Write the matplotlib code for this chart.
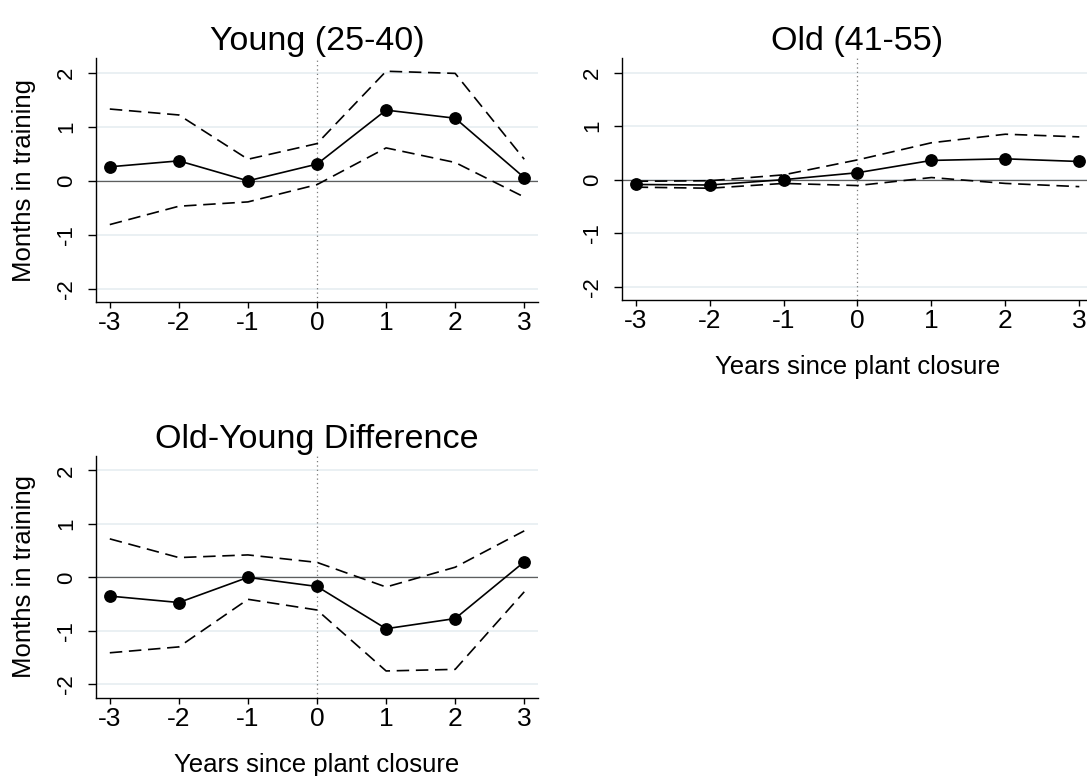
"""Event-study style panels: months in training around plant closure."""

import matplotlib
matplotlib.use("Agg")
import matplotlib.pyplot as plt

plt.rcParams["font.family"] = ["Liberation Sans", "DejaVu Sans"]

years = [-3, -2, -1, 0, 1, 2, 3]

young_est = [0.26, 0.37, 0.00, 0.31, 1.31, 1.16, 0.06]
young_hi = [1.33, 1.22, 0.40, 0.69, 2.03, 1.99, 0.40]
young_lo = [-0.81, -0.47, -0.39, -0.07, 0.61, 0.34, -0.30]

old_est = [-0.09, -0.10, 0.00, 0.13, 0.36, 0.39, 0.34]
old_hi = [-0.03, -0.02, 0.09, 0.37, 0.69, 0.85, 0.80]
old_lo = [-0.14, -0.16, -0.07, -0.11, 0.04, -0.07, -0.13]

diff_est = [-0.35, -0.47, 0.00, -0.17, -0.96, -0.77, 0.29]
diff_hi = [0.72, 0.37, 0.42, 0.28, -0.18, 0.19, 0.87]
diff_lo = [-1.41, -1.30, -0.41, -0.61, -1.75, -1.72, -0.27]

y_ticks = [-2, -1, 0, 1, 2]

GRID_COLOUR = "#E6EEF1"
TITLE_SIZE = 24.5
LABEL_SIZE = 18.5
XTICK_SIZE = 19
YTICK_SIZE = 16

fig = plt.figure(figsize=(10.87, 7.76), dpi=100)
fig.patch.set_facecolor("white")

# axes rectangles (left, bottom, width, height) in figure fractions
ax_young = fig.add_axes([0.0883, 0.6104, 0.4067, 0.3145])
ax_old = fig.add_axes([0.5722, 0.6134, 0.4333, 0.3115])
ax_diff = fig.add_axes([0.0883, 0.1009, 0.4067, 0.3115])


def draw_panel(ax, est, hi, lo, title, ylabel=None, xlabel=None):
    for y in y_ticks:
        ax.axhline(y, color=GRID_COLOUR, linewidth=1.2, zorder=0)
    ax.axhline(0, color="#5E5E5E", linewidth=0.9, zorder=1)
    ax.axvline(0, color="#7A7A7A", linewidth=0.9, linestyle=(0, (1, 2.5)), zorder=1)

    ax.plot(years, hi, color="black", linewidth=1.2, dashes=(7.5, 4), zorder=2)
    ax.plot(years, lo, color="black", linewidth=1.2, dashes=(7.5, 4), zorder=2)
    ax.plot(years, est, "-o", color="black", linewidth=1.2, markersize=8.2, zorder=3)

    ax.set_xlim(-3.2, 3.2)
    ax.set_ylim(-2.25, 2.27)
    ax.set_xticks(years)
    ax.set_xticklabels([str(v) for v in years])
    ax.set_yticks(y_ticks)
    ax.set_yticklabels([str(v) for v in y_ticks], rotation=90, va="center")
    ax.tick_params(axis="x", labelsize=XTICK_SIZE, length=4, width=1.0,
                   color="black", pad=2.5)
    ax.tick_params(axis="y", labelsize=YTICK_SIZE, length=6, width=1.0,
                   color="black", pad=7.5)

    for side in ("top", "right"):
        ax.spines[side].set_visible(False)
    for side in ("left", "bottom"):
        ax.spines[side].set_linewidth(1.0)
        ax.spines[side].set_color("black")

    ax.set_title(title, fontsize=TITLE_SIZE, pad=6)
    if ylabel:
        ax.set_ylabel(ylabel, fontsize=LABEL_SIZE)
        ax.yaxis.set_label_coords(-0.135, 0.5)
    if xlabel:
        ax.set_xlabel(xlabel, fontsize=LABEL_SIZE)
        ax.xaxis.set_label_coords(0.5, -0.228)


draw_panel(ax_young, young_est, young_hi, young_lo, "Young (25-40)",
           ylabel="Months in training")
draw_panel(ax_old, old_est, old_hi, old_lo, "Old (41-55)",
           xlabel="Years since plant closure")
draw_panel(ax_diff, diff_est, diff_hi, diff_lo, "Old-Young Difference",
           ylabel="Months in training", xlabel="Years since plant closure")

# the Old panel runs past the right edge in the original
ax_old.set_xlim(-3.185, 3.185)

fig.savefig("out.png", dpi=100, facecolor="white")
